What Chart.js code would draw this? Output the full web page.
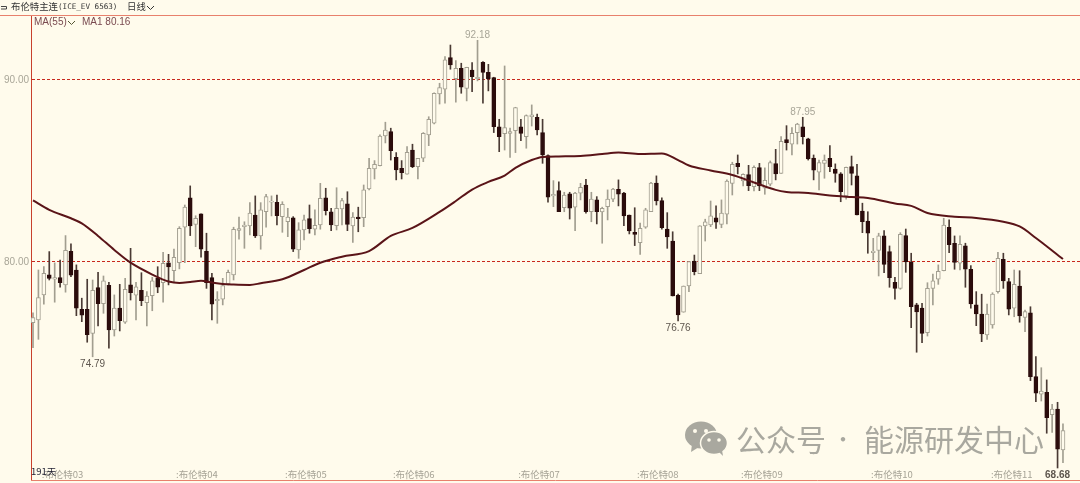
<!DOCTYPE html>
<html>
<head>
<meta charset="utf-8">
<style>
  html, body { margin: 0; padding: 0; background: #fffbec; }
  #wrap { position: relative; width: 1080px; height: 483px; overflow: hidden; }
  canvas { position: absolute; left: 0; top: 0; }
  .t { position: absolute; white-space: nowrap; line-height: 1; font-family: "Liberation Sans", sans-serif; }
  .cjk { font-family: "Noto Sans CJK SC", sans-serif; }
  svg { position: absolute; }
</style>
</head>
<body>
<div id="wrap">
  <canvas id="c" width="1080" height="483"></canvas>
  <svg style="left:1px;top:4px" width="8" height="7"><path d="M0 2.5H5.5V5H0" fill="none" stroke="#444" stroke-width="1"/></svg>
  <div class="t cjk" style="left:11px;top:2px;font-size:9.4px;color:#333">布伦特主连</div>
  <div class="t" style="left:58px;top:3px;font-size:7.6px;color:#333;font-family:'DejaVu Sans Mono'">(ICE_EV 6563)</div>
  <div class="t cjk" style="left:127px;top:2px;font-size:9.4px;color:#333">日线</div>
  <svg style="left:146px;top:5px" width="10" height="6"><path d="M1 1L4.5 4.5L8 1" fill="none" stroke="#333" stroke-width="1"/></svg>
  <div class="t" style="left:34px;top:17px;font-size:10px;color:#7a4a50">MA(55)</div>
  <svg style="left:67px;top:20px" width="10" height="6"><path d="M1 1L4.5 4.5L8 1" fill="none" stroke="#553" stroke-width="1"/></svg>
  <div class="t" style="left:82px;top:17px;font-size:10px;color:#7a4a50">MA1 80.16</div>
  <div class="t cjk" style="left:31px;top:467px;font-size:9.5px;color:#223">191天</div>
  <svg style="left:685px;top:421px" width="42" height="36">
    <ellipse cx="16" cy="14" rx="16" ry="13.5" fill="#a9a89f"/>
    <path d="M7 23L6 31L14 26Z" fill="#a9a89f"/>
    <ellipse cx="29" cy="22" rx="13.5" ry="11.5" fill="#a9a89f" stroke="#fffbec" stroke-width="1.5"/>
    <path d="M34 31L38 35L37 29Z" fill="#a9a89f"/>
    <circle cx="10" cy="10" r="2" fill="#fffbec"/><circle cx="21" cy="10" r="2" fill="#fffbec"/>
    <circle cx="24" cy="19" r="1.8" fill="#fffbec"/><circle cx="34" cy="19" r="1.8" fill="#fffbec"/>
  </svg>
  <div class="t cjk" style="left:736px;top:423px;font-size:30px;color:#a9a89f">公众号</div>
  <div class="t cjk" style="left:828px;top:423px;font-size:30px;color:#a9a89f;transform:scale(.7);transform-origin:50% 50%">·</div>
  <div class="t cjk" style="left:864px;top:423px;font-size:30px;color:#a9a89f">能源研发中心</div>
</div>
<script src="https://cdn.jsdelivr.net/npm/chart.js@4"></script>
<script>
/* global Chart */

const opens = [
  76.66, 76.81, 78.19, 79.30, 79.05, 79.14, 78.74, 80.59, 79.56, 77.40,
  77.40, 76.08, 78.59, 77.71, 78.72, 76.26, 77.47, 76.69, 78.75, 78.17,
  78.44, 77.76, 78.15, 79.12, 78.86, 79.95, 79.52, 79.96, 81.91, 83.52,
  82.07, 82.64, 80.59, 79.14, 77.87, 77.95, 78.79, 79.29, 81.74, 81.94,
  81.98, 82.58, 81.43, 82.76, 83.28, 83.28, 82.49, 82.21, 82.43, 80.66,
  81.76, 82.38, 81.80, 82.03, 83.52, 82.76, 81.99, 82.91, 83.19, 81.98,
  82.46, 82.43, 84.01, 85.11, 85.29, 86.92, 87.16, 85.75, 85.15, 84.82,
  86.15, 85.24, 85.70, 86.98, 87.62, 89.23, 89.49, 91.23, 90.07, 90.64,
  89.54, 90.55, 90.07, 90.97, 90.42, 90.13, 87.43, 87.05, 87.07, 87.21,
  87.43, 86.89, 87.98, 87.95, 87.11, 85.84, 83.63, 83.92, 82.98, 83.75,
  83.01, 83.78, 84.23, 82.76, 83.41, 82.75, 83.04, 83.45, 83.99, 83.78,
  82.58, 81.63, 81.06, 81.91, 82.76, 84.34, 83.37, 81.81, 81.15, 78.17,
  77.24, 78.68, 80.05, 79.36, 81.98, 82.03, 82.42, 82.07, 82.62, 84.32,
  85.42, 84.45, 84.80, 84.14, 85.18, 84.05, 84.27, 85.40, 84.87, 86.72,
  86.47, 87.11, 87.43, 86.76, 85.71, 84.93, 85.42, 85.70, 85.11, 84.84,
  83.63, 85.24, 84.73, 82.80, 82.25, 80.51, 80.64, 81.43, 80.57, 78.88,
  78.55, 81.45, 80.00, 77.64, 77.47, 76.12, 78.55, 79.05, 79.52, 81.91,
  81.03, 79.93, 80.88, 79.60, 77.64, 77.14, 75.99, 76.54, 78.37, 80.15,
  78.92, 77.46, 78.68, 76.96, 77.20, 73.70, 72.73, 72.84, 71.61, 71.92, 69.67
]
const closes = [
  76.94, 78.04, 79.38, 79.10, 79.14, 78.86, 80.64, 79.27, 77.46, 77.07,
  76.01, 78.44, 77.71, 78.96, 76.26, 77.47, 76.77, 78.50, 78.31, 78.63,
  77.87, 78.12, 78.97, 78.61, 79.93, 79.73, 80.26, 81.85, 83.01, 81.98,
  82.40, 80.70, 78.86, 77.68, 77.95, 78.70, 79.43, 81.80, 81.83, 82.03,
  82.68, 81.43, 82.86, 83.59, 83.35, 82.54, 83.17, 82.46, 80.71, 81.76,
  82.31, 81.83, 82.02, 83.50, 82.82, 82.03, 82.95, 83.37, 82.07, 82.46,
  82.38, 83.96, 85.15, 85.37, 86.92, 87.25, 86.12, 85.06, 84.91, 86.03,
  85.24, 85.70, 87.07, 87.84, 89.27, 89.58, 91.10, 90.83, 90.64, 89.60,
  90.70, 90.18, 90.15, 90.42, 90.06, 87.43, 86.89, 87.38, 87.16, 88.48,
  87.07, 88.04, 88.08, 87.25, 85.88, 83.56, 83.72, 82.76, 83.68, 82.95,
  83.78, 84.10, 82.76, 83.45, 82.76, 82.95, 83.45, 84.01, 83.72, 82.53,
  81.70, 81.52, 81.85, 82.86, 84.34, 83.35, 81.88, 81.37, 78.13, 77.09,
  78.68, 80.02, 79.47, 81.98, 82.21, 82.54, 82.18, 82.68, 84.45, 85.37,
  85.24, 84.82, 84.19, 85.20, 84.18, 84.49, 85.46, 84.84, 86.63, 86.56,
  87.07, 87.58, 86.89, 85.66, 85.04, 85.46, 85.60, 85.24, 84.87, 83.86,
  85.20, 84.87, 82.58, 82.21, 81.58, 80.60, 81.43, 79.87, 79.14, 78.55,
  81.52, 80.00, 77.54, 77.25, 76.08, 78.55, 78.97, 79.49, 82.03, 80.95,
  79.98, 80.97, 79.60, 77.69, 77.14, 76.04, 77.13, 78.24, 80.20, 78.96,
  77.40, 78.77, 77.03, 77.27, 73.70, 72.79, 72.91, 71.44, 71.91, 69.71, 70.73
]
const highs = [
  77.21, 79.56, 79.74, 80.57, 79.95, 80.11, 81.45, 80.99, 79.84, 78.01,
  79.05, 79.01, 79.43, 79.23, 78.88, 78.19, 78.77, 79.10, 80.75, 78.88,
  79.41, 78.37, 79.16, 79.74, 80.53, 80.42, 80.71, 81.94, 83.13, 84.18,
  82.54, 82.64, 81.58, 79.38, 78.37, 79.10, 79.56, 81.91, 82.46, 82.21,
  83.27, 83.63, 83.26, 83.72, 83.63, 83.68, 83.31, 82.95, 82.49, 82.16,
  82.58, 83.13, 82.86, 84.32, 84.05, 82.95, 84.08, 83.50, 83.86, 82.71,
  83.01, 84.23, 85.70, 85.57, 86.98, 87.68, 87.35, 86.01, 85.57, 86.34,
  86.47, 85.70, 87.11, 87.98, 89.30, 89.82, 91.28, 91.92, 91.06, 90.92,
  90.70, 90.95, 92.18, 91.01, 90.86, 90.15, 87.84, 90.77, 87.35, 88.50,
  87.84, 88.08, 88.63, 88.13, 87.84, 85.88, 84.47, 84.41, 83.83, 83.83,
  83.83, 84.32, 84.54, 83.83, 83.59, 83.01, 83.96, 84.05, 84.51, 83.83,
  82.58, 82.98, 82.13, 82.95, 84.38, 84.73, 83.53, 82.71, 81.66, 78.23,
  78.68, 80.02, 80.38, 81.99, 82.35, 83.35, 83.08, 83.41, 84.51, 85.48,
  85.88, 84.84, 85.31, 85.28, 85.42, 85.17, 85.55, 86.19, 86.89, 87.49,
  87.38, 87.62, 87.95, 86.80, 85.88, 85.60, 85.88, 86.39, 85.39, 84.91,
  85.22, 85.82, 85.37, 83.23, 82.76, 81.30, 81.58, 81.72, 80.88, 79.16,
  81.61, 81.81, 80.48, 77.73, 77.73, 78.86, 79.34, 79.84, 82.40, 82.31,
  81.43, 81.43, 81.03, 79.80, 78.37, 78.23, 77.69, 78.31, 80.53, 80.48,
  79.10, 79.56, 79.52, 77.36, 77.54, 74.80, 74.19, 73.52, 72.18, 72.29, 71.10
]
const lows = [
  75.29, 75.75, 77.68, 79.01, 77.79, 78.61, 78.34, 79.19, 77.05, 76.72,
  75.59, 74.79, 76.48, 77.18, 75.26, 75.93, 76.21, 76.63, 77.91, 76.81,
  77.60, 76.48, 77.32, 78.31, 77.79, 78.74, 78.86, 79.62, 79.96, 81.45,
  80.84, 80.26, 78.55, 76.81, 76.63, 77.64, 78.74, 79.01, 81.25, 80.75,
  81.48, 81.34, 80.70, 81.91, 82.53, 82.03, 81.63, 81.39, 80.57, 80.20,
  81.21, 81.58, 81.48, 81.80, 82.58, 81.72, 81.76, 82.03, 81.72, 81.08,
  81.66, 81.94, 83.96, 84.56, 85.28, 86.54, 85.60, 84.51, 84.56, 84.82,
  85.18, 84.56, 85.51, 86.39, 87.58, 88.68, 88.72, 90.59, 88.78, 89.27,
  88.85, 89.36, 89.95, 88.72, 89.40, 87.11, 86.06, 86.15, 85.75, 86.01,
  86.67, 86.25, 87.47, 86.98, 85.42, 83.28, 83.04, 82.76, 82.76, 82.36,
  81.72, 83.41, 82.68, 82.21, 82.09, 81.03, 82.31, 83.31, 83.08, 81.99,
  81.54, 80.90, 80.42, 81.85, 82.76, 83.13, 81.80, 80.75, 78.13, 76.76,
  77.24, 78.37, 79.29, 79.36, 81.15, 81.94, 81.85, 81.88, 82.09, 83.68,
  84.84, 84.18, 83.92, 83.90, 83.92, 83.72, 84.18, 84.51, 84.87, 86.15,
  85.88, 86.48, 86.48, 85.60, 84.51, 83.96, 84.60, 84.96, 84.38, 83.31,
  83.45, 84.23, 82.58, 81.61, 80.48, 80.11, 79.23, 79.41, 78.61, 77.95,
  78.50, 79.43, 76.39, 75.04, 75.57, 75.93, 77.64, 78.77, 79.51, 80.51,
  79.60, 79.56, 78.61, 77.46, 76.50, 75.62, 75.75, 76.36, 78.28, 78.55,
  77.09, 76.99, 76.69, 76.17, 73.48, 72.32, 72.36, 70.59, 70.64, 68.68, 68.97
]

// MA(55) at these candles
const maDays = [
  0, 3, 7, 9, 12, 15, 18, 22, 25, 27, 29, 31, 33, 35, 37, 40, 42, 46, 50, 53, 57, 62,
  66, 70, 75, 78, 81, 84, 87, 89, 92, 94, 97, 101, 105, 108, 112, 116, 119, 121, 125,
  129, 133, 137, 139, 143, 147, 151, 154, 159, 162, 165, 170, 174, 179, 182, 185, 190
]
const maValues = [
  83.38, 82.86, 82.40, 82.12, 81.43, 80.66, 79.96, 79.31, 78.93, 78.85, 78.90, 78.97, 78.87, 78.79, 78.76, 78.74, 78.83, 79.05, 79.56, 79.96, 80.29, 80.60,
  81.43, 81.87, 82.75, 83.35, 83.98, 84.40, 84.75, 85.17, 85.60, 85.77, 85.80, 85.82, 85.93, 86.01, 85.93, 85.96, 85.60, 85.30, 85.03,
  84.78, 84.37, 83.96, 83.85, 83.79, 83.65, 83.57, 83.52, 83.21, 83.08, 82.69, 82.49, 82.42, 82.21, 81.95, 81.32, 80.16
]

const yTickValues = [80, 90]
const monthDays = [1.6, 26.4, 46.5, 66.4, 89.5, 111.4, 130.6, 154.6, 176.7]
const monthLabels = ['布伦特03', '布伦特04', '布伦特05', '布伦特06', '布伦特07', '布伦特08', '布伦特09', '布伦特10', '布伦特11']
const extremeDays = [11, 82, 119, 142, 189]
const extremeValues = [74.79, 92.18, 76.76, 87.95, 68.68]

const UP_FILL = '#fffbec'
const UP_LINE = '#a29e90'
const DOWN_FILL = '#2b0c0c'
const FRAME = '#c8402c'
const FRAME_LIGHT = '#e8806c'

const isUp = i => closes[i] >= opens[i]

const wicks = highs.map((h, i) => ({ x: i, y: [lows[i], h] }))
const bodies = opens.map((o, i) => ({ x: i, y: [o, closes[i]] }))
const ma = maDays.map((d, i) => ({ x: d, y: maValues[i] }))

const overlay = {
  id: 'overlay',
  afterDraw (chart) {
    const { ctx, chartArea, scales } = chart
    ctx.save()
    ctx.strokeStyle = FRAME_LIGHT
    ctx.lineWidth = 1
    ctx.beginPath()
    ctx.moveTo(0, chartArea.top + 0.5)
    ctx.lineTo(1080, chartArea.top + 0.5)
    ctx.moveTo(chartArea.left, chartArea.bottom + 0.5)
    ctx.lineTo(1080, chartArea.bottom + 0.5)
    ctx.stroke()

    ctx.font = '9.5px "Noto Sans CJK SC", sans-serif'
    ctx.textBaseline = 'middle'
    ctx.textAlign = 'left'
    ctx.fillStyle = '#a6a396'
    monthLabels.forEach((label, i) => {
      const x = scales.x.getPixelForValue(monthDays[i])
      ctx.fillText(':' + label, x, 474)
    })

    ctx.textAlign = 'center'
    extremeDays.forEach((d, i) => {
      const v = extremeValues[i]
      const up = highs[d] === v
      const last = d === 189
      ctx.font = (last ? 'bold ' : '') + '10px "Liberation Sans", sans-serif'
      ctx.fillStyle = up ? '#a9a698' : '#5e564e'
      const y = scales.y.getPixelForValue(v) + (up ? -5 : 7)
      ctx.fillText(v.toFixed(2), scales.x.getPixelForValue(d), last ? 475 : y)
    })
    ctx.restore()
  }
}

new Chart(document.getElementById('c'), {
  data: {
    datasets: [
      {
        type: 'line',
        data: ma,
        order: 0,
        borderColor: '#5a1418',
        borderWidth: 2,
        pointRadius: 0,
        cubicInterpolationMode: 'monotone'
      },
      {
        type: 'bar',
        data: bodies,
        order: 1,
        barThickness: 4,
        grouped: false,
        borderWidth: 1,
        borderSkipped: false,
        backgroundColor: c => isUp(c.dataIndex) ? UP_FILL : DOWN_FILL,
        borderColor: c => isUp(c.dataIndex) ? UP_LINE : DOWN_FILL
      },
      {
        type: 'bar',
        data: wicks,
        order: 2,
        barThickness: 1,
        grouped: false,
        borderWidth: 0,
        backgroundColor: c => isUp(c.dataIndex) ? UP_LINE : '#4a3a34'
      }
    ]
  },
  plugins: [overlay],
  options: {
    responsive: false,
    animation: false,
    layout: { padding: { top: 15, bottom: 3 } },
    plugins: { legend: { display: false }, tooltip: { enabled: false } },
    scales: {
      x: {
        type: 'linear',
        display: false,
        offset: false,
        min: -0.37,
        max: 193.14
      },
      y: {
        min: 68.02,
        max: 93.57,
        afterFit: s => { s.width = 31; s.paddingTop = 0; s.paddingBottom = 0 },
        afterBuildTicks: s => { s.ticks = yTickValues.map(v => ({ value: v })) },
        border: { display: true, color: FRAME, width: 1, dash: [3, 2] },
        grid: { color: '#c8281e', drawTicks: false },
        ticks: {
          padding: 2,
          color: '#a9a698',
          font: { family: '"Liberation Sans"', size: 10 },
          callback: v => v.toFixed(2)
        }
      }
    }
  }
})
</script>
</body>
</html>
